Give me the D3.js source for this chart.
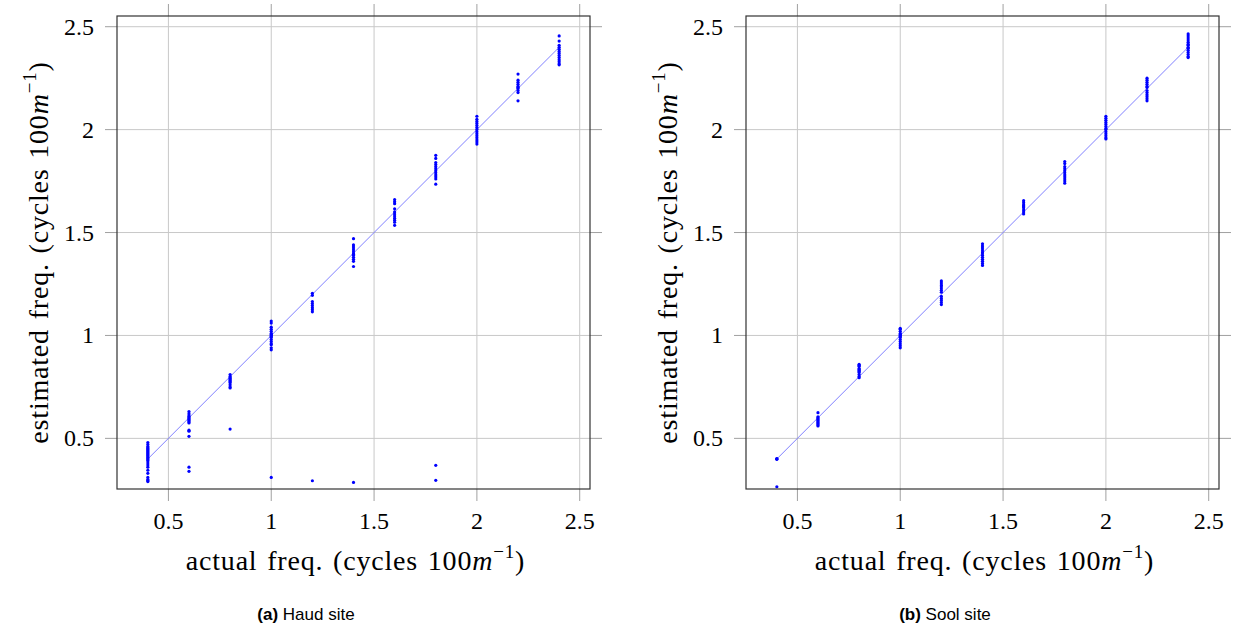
<!DOCTYPE html>
<html>
<head>
<meta charset="utf-8">
<script src="https://cdn.jsdelivr.net/npm/d3@7"></script>
<style>
  html, body { margin: 0; padding: 0; background: #fff; }
  svg { display: block; }
  .tick-label { font-family: "Liberation Serif", "DejaVu Serif", serif; font-size: 24px; fill: #000; }
  .axis-label { font-family: "Liberation Serif", "DejaVu Serif", serif; font-size: 28px; fill: #000; letter-spacing: 0.8px; word-spacing: 2px; }
  .caption { font-family: "Liberation Sans", Arial, sans-serif; font-size: 17px; fill: #000; }
</style>
</head>
<body>
<svg id="chart" width="1238" height="629"></svg>
<script>
// actual frequencies (cycles per 100 m)
const freqs = [0.4, 0.6, 0.8, 1.0, 1.2, 1.4, 1.6, 1.8, 2.0, 2.2, 2.4];

// estimated frequencies, one list per actual frequency
const haudEst = [
  [0.48, 0.47, 0.46, 0.455, 0.45, 0.445, 0.44, 0.435, 0.43, 0.425, 0.42, 0.415, 0.41, 0.405, 0.40, 0.395, 0.39, 0.38, 0.37, 0.36, 0.345, 0.33, 0.31, 0.30, 0.295, 0.29],
  [0.63, 0.62, 0.61, 0.605, 0.60, 0.595, 0.59, 0.585, 0.58, 0.575, 0.54, 0.535, 0.51, 0.36, 0.34],
  [0.81, 0.80, 0.795, 0.79, 0.785, 0.78, 0.775, 0.77, 0.76, 0.75, 0.745, 0.545],
  [1.07, 1.06, 1.04, 1.03, 1.02, 1.01, 1.005, 1.0, 0.995, 0.99, 0.98, 0.97, 0.96, 0.955, 0.94, 0.93, 0.31],
  [1.205, 1.195, 1.165, 1.155, 1.145, 1.135, 1.125, 1.115, 0.294],
  [1.47, 1.44, 1.43, 1.42, 1.41, 1.40, 1.395, 1.39, 1.38, 1.37, 1.36, 1.335, 0.286],
  [1.66, 1.65, 1.64, 1.615, 1.60, 1.59, 1.58, 1.57, 1.56, 1.55, 1.535],
  [1.875, 1.86, 1.84, 1.83, 1.82, 1.81, 1.80, 1.79, 1.78, 1.77, 1.76, 1.735, 0.369, 0.296],
  [2.065, 2.05, 2.04, 2.03, 2.02, 2.01, 2.0, 1.99, 1.98, 1.97, 1.96, 1.95, 1.94, 1.93],
  [2.27, 2.24, 2.23, 2.22, 2.21, 2.205, 2.20, 2.19, 2.18, 2.14],
  [2.455, 2.43, 2.41, 2.40, 2.39, 2.38, 2.37, 2.36, 2.35, 2.34, 2.33, 2.32, 2.315],
];

const soolEst = [
  [0.402, 0.40, 0.398, 0.265],
  [0.625, 0.605, 0.60, 0.595, 0.59, 0.585, 0.58, 0.575, 0.57, 0.565, 0.56],
  [0.86, 0.855, 0.85, 0.84, 0.835, 0.83, 0.825, 0.82, 0.81, 0.80, 0.795],
  [1.035, 1.03, 1.02, 1.01, 1.005, 1.0, 0.995, 0.99, 0.98, 0.97, 0.96, 0.95, 0.94],
  [1.265, 1.255, 1.245, 1.24, 1.23, 1.22, 1.21, 1.19, 1.18, 1.17, 1.16, 1.15],
  [1.445, 1.435, 1.425, 1.415, 1.405, 1.40, 1.39, 1.38, 1.37, 1.36, 1.35, 1.34],
  [1.655, 1.645, 1.635, 1.63, 1.625, 1.62, 1.61, 1.60, 1.59],
  [1.845, 1.835, 1.82, 1.81, 1.80, 1.79, 1.78, 1.77, 1.76, 1.75, 1.74],
  [2.065, 2.055, 2.045, 2.035, 2.025, 2.015, 2.005, 2.0, 1.99, 1.98, 1.97, 1.96, 1.955],
  [2.25, 2.24, 2.23, 2.22, 2.21, 2.205, 2.19, 2.18, 2.17, 2.16, 2.15, 2.14],
  [2.465, 2.455, 2.445, 2.435, 2.425, 2.415, 2.41, 2.40, 2.395, 2.385, 2.375, 2.365, 2.355, 2.35],
];

// reference line y = x
const refLine = [0.4, 2.4];

const xTicks = [0.5, 1, 1.5, 2, 2.5];
const yTicks = [0.5, 1, 1.5, 2, 2.5];
const xDomain = [0.25, 2.55];
const yDomain = [0.254, 2.552];

const panels = [
  { est: haudEst, left: 117, right: 590, capX: 306, tag: "(a)", name: " Haud site" },
  { est: soolEst, left: 746, right: 1219, capX: 945, tag: "(b)", name: " Sool site" },
];

const plotTop = 16;
const plotBottom = 489;
const tickLen = 12;

const svg = d3.select("#chart");
const fmt = (d) => String(d);

function drawPanel(p) {
  const x = d3.scaleLinear().domain(xDomain).range([p.left, p.right]);
  const y = d3.scaleLinear().domain(yDomain).range([plotBottom, plotTop]);
  const g = svg.append("g");

  // grid
  g.selectAll("line.gx").data(xTicks).join("line")
    .attr("x1", (d) => x(d)).attr("x2", (d) => x(d))
    .attr("y1", plotTop).attr("y2", plotBottom)
    .attr("stroke", "#c8c8c8").attr("stroke-width", 1);
  g.selectAll("line.gy").data(yTicks).join("line")
    .attr("x1", p.left).attr("x2", p.right)
    .attr("y1", (d) => y(d)).attr("y2", (d) => y(d))
    .attr("stroke", "#c8c8c8").attr("stroke-width", 1);

  // outside ticks on all four sides
  const tickColor = "#a0a0a0";
  g.selectAll("line.tb").data(xTicks).join("line")
    .attr("x1", (d) => x(d)).attr("x2", (d) => x(d))
    .attr("y1", plotBottom).attr("y2", plotBottom + tickLen)
    .attr("stroke", tickColor);
  g.selectAll("line.tt").data(xTicks).join("line")
    .attr("x1", (d) => x(d)).attr("x2", (d) => x(d))
    .attr("y1", plotTop).attr("y2", plotTop - tickLen)
    .attr("stroke", tickColor);
  g.selectAll("line.tl").data(yTicks).join("line")
    .attr("x1", p.left - tickLen).attr("x2", p.left)
    .attr("y1", (d) => y(d)).attr("y2", (d) => y(d))
    .attr("stroke", tickColor);
  g.selectAll("line.tr").data(yTicks).join("line")
    .attr("x1", p.right).attr("x2", p.right + tickLen)
    .attr("y1", (d) => y(d)).attr("y2", (d) => y(d))
    .attr("stroke", tickColor);

  // reference line
  g.append("line")
    .attr("x1", x(refLine[0])).attr("y1", y(refLine[0]))
    .attr("x2", x(refLine[1])).attr("y2", y(refLine[1]))
    .attr("stroke", "#8080ff").attr("stroke-width", 1);

  // points
  const pts = [];
  freqs.forEach((f, i) => p.est[i].forEach((v) => pts.push([f, v])));
  g.selectAll("circle").data(pts).join("circle")
    .attr("cx", (d) => x(d[0])).attr("cy", (d) => y(d[1]))
    .attr("r", 1.6).attr("fill", "#0000ff");

  // frame
  g.append("rect")
    .attr("x", p.left).attr("y", plotTop)
    .attr("width", p.right - p.left).attr("height", plotBottom - plotTop)
    .attr("fill", "none").attr("stroke", "#333").attr("stroke-width", 1.2);

  // tick labels
  g.selectAll("text.xl").data(xTicks).join("text")
    .attr("class", "tick-label")
    .attr("x", (d) => x(d)).attr("y", plotBottom + 40)
    .attr("text-anchor", "middle").text(fmt);
  g.selectAll("text.yl").data(yTicks).join("text")
    .attr("class", "tick-label")
    .attr("x", p.left - 23).attr("y", (d) => y(d) + 8)
    .attr("text-anchor", "end").text(fmt);

  const cx = (p.left + p.right) / 2;
  const cy = (plotTop + plotBottom) / 2;

  // x axis label
  const xl = g.append("text").attr("class", "axis-label")
    .attr("x", cx + 2).attr("y", 570).attr("text-anchor", "middle");
  xl.append("tspan").text("actual freq.  (cycles 100");
  xl.append("tspan").attr("font-style", "italic").text("m");
  xl.append("tspan").attr("font-size", "19px").attr("dy", -12).text("\u22121");
  xl.append("tspan").attr("dy", 12).text(")");

  // y axis label
  const yl = g.append("text").attr("class", "axis-label")
    .attr("transform", `translate(${p.left - 69},${cy}) rotate(-90)`)
    .attr("text-anchor", "middle");
  yl.append("tspan").text("estimated freq.  (cycles 100");
  yl.append("tspan").attr("font-style", "italic").text("m");
  yl.append("tspan").attr("font-size", "19px").attr("dy", -12).text("\u22121");
  yl.append("tspan").attr("dy", 12).text(")");

  // caption
  const cap = g.append("text").attr("class", "caption")
    .attr("x", p.capX).attr("y", 620).attr("text-anchor", "middle");
  cap.append("tspan").attr("font-weight", "bold").text(p.tag);
  cap.append("tspan").text(p.name);
}

panels.forEach(drawPanel);
</script>
</body>
</html>
